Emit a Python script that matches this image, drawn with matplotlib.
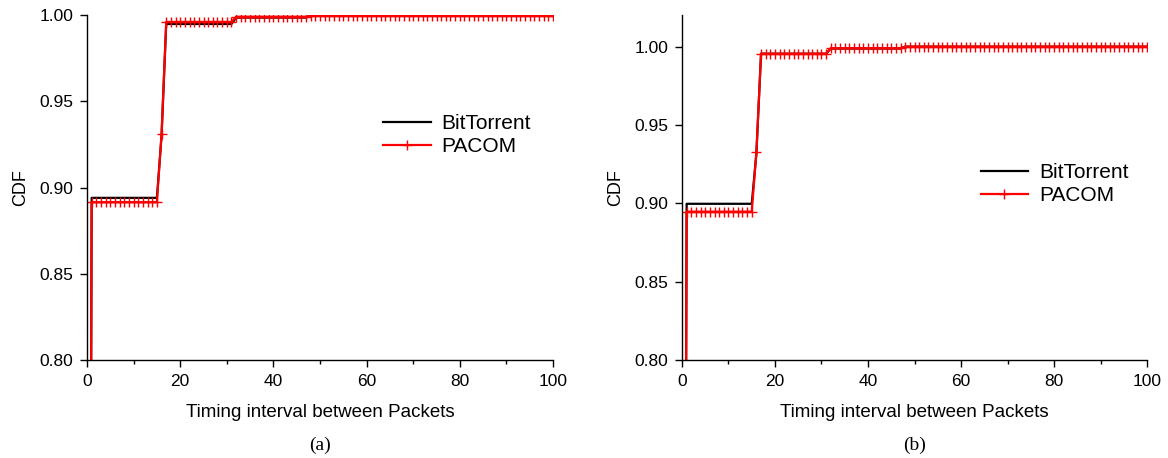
import matplotlib
matplotlib.use("Agg")
import matplotlib.pyplot as plt
import numpy as np

# step CDFs, stored as (level, run length) over x = 0..100
x_vals = np.arange(0, 101)

bt_a_levels = [0.0, 0.894, 0.930, 0.9948, 0.9985, 0.9995]
bt_a_runs = [1, 15, 1, 15, 16, 53]
pacom_a_levels = [0.0, 0.8915, 0.931, 0.996, 0.999, 0.9995]
pacom_a_runs = [1, 15, 1, 15, 16, 53]

bt_b_levels = [0.0, 0.8997, 0.932, 0.9955, 0.9988, 1.0]
bt_b_runs = [1, 15, 1, 15, 16, 53]
pacom_b_levels = [0.0, 0.8947, 0.9326, 0.9955, 0.999, 1.0]
pacom_b_runs = [1, 15, 1, 15, 16, 53]

captions = ["(a)", "(b)"]
x_label = "Timing interval between Packets"

plt.rcParams["font.family"] = ["Liberation Sans", "DejaVu Sans"]

fig = plt.figure(figsize=(11.68, 4.58), dpi=100)
W, H = 1168, 458
ax_a = fig.add_axes([87 / W, 1 - 360 / H, 466 / W, 345 / H])
ax_b = fig.add_axes([682 / W, 1 - 360 / H, 465 / W, 345 / H])

panels = [
    (ax_a, bt_a_levels, bt_a_runs, pacom_a_levels, pacom_a_runs, (0.635, 0.652), (0.80, 1.0)),
    (ax_b, bt_b_levels, bt_b_runs, pacom_b_levels, pacom_b_runs, (0.642, 0.509), (0.80, 1.0202)),
]

for i, (ax, btl, btr, pl, pr, leg_pos, ylim) in enumerate(panels):
    bt = np.repeat(btl, btr)
    pac = np.repeat(pl, pr)
    ax.plot(x_vals, bt, color="black", lw=1.6, label="BitTorrent")
    ax.plot(x_vals, pac, color="red", lw=1.6, marker="+", ms=7.5, mew=1.0,
            label="PACOM")
    ax.set_xlim(0, 100)
    ax.set_ylim(*ylim)
    ax.set_xticks(np.arange(0, 101, 20))
    ax.set_xticks(np.arange(10, 100, 20), minor=True)
    ax.set_yticks([0.80, 0.85, 0.90, 0.95, 1.00])
    ax.yaxis.set_major_formatter(matplotlib.ticker.FormatStrFormatter("%.2f"))
    ax.tick_params(which="major", direction="out", length=5, width=1.0,
                   labelsize=12.5, pad=5)
    ax.tick_params(which="minor", direction="out", length=3, width=1.0)
    for s in ["top", "right"]:
        ax.spines[s].set_visible(False)
    for s in ["left", "bottom"]:
        ax.spines[s].set_linewidth(1.0)
    ax.set_xlabel(x_label, fontsize=13.5, labelpad=11)
    ax.set_ylabel("CDF", fontsize=13)
    ax.yaxis.set_label_coords(-0.125, 0.5)
    ax.legend(loc="center left", bbox_to_anchor=leg_pos, frameon=False,
              fontsize=15, borderpad=0, borderaxespad=0, handlelength=2.3,
              handletextpad=0.5, labelspacing=0.2)
    cx = (ax.get_position().x0 + ax.get_position().x1) / 2
    fig.text(cx, 1 - 445 / H, captions[i], ha="center", va="center",
             fontsize=14, family=["Liberation Serif", "DejaVu Serif"])

fig.savefig("out.png", dpi=100)
